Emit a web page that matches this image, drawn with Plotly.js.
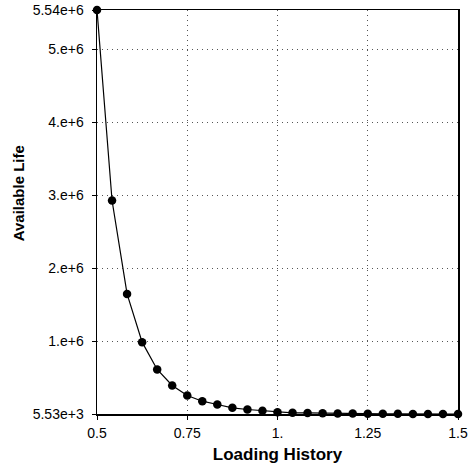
<!DOCTYPE html>
<html>
<head>
<meta charset="utf-8">
<script src="https://cdn.plot.ly/plotly-3.0.1.min.js"></script>
<style>html,body{margin:0;padding:0;background:#fff;}#chart{width:470px;height:466px;}</style>
</head>
<body>
<div id="chart"></div>
<script>
// Data
const loadingHistory = [0.5, 0.5417, 0.5833, 0.625, 0.6667, 0.7083, 0.75, 0.7917, 0.8333, 0.875, 0.9167, 0.9583, 1.0,
  1.0417, 1.0833, 1.125, 1.1667, 1.2083, 1.25, 1.2917, 1.3333, 1.375, 1.4167, 1.4583, 1.5];
const availableLife = [5.54e6, 2.93e6, 1.65e6, 0.99e6, 0.615e6, 0.396e6, 0.259e6, 0.181e6, 0.136e6, 0.09e6, 0.067e6, 0.05e6, 0.03e6,
  0.022e6, 0.02e6, 0.016e6, 0.013e6, 0.011e6, 0.0095e6, 0.0085e6, 0.0075e6, 0.0068e6, 0.0062e6, 0.0058e6, 0.00553e6];
const xTickVals = [0.5, 0.75, 1, 1.25, 1.5];
const xTickText = ["0.5", "0.75", "1.", "1.25", "1.5"];
const yTickVals = [5.53e3, 1e6, 2e6, 3e6, 4e6, 5e6, 5.54e6];
const yTickText = ["5.53e+3", "1.e+6", "2.e+6", "3.e+6", "4.e+6", "5.e+6", "5.54e+6"];

const font = {family: "Liberation Sans, Arial, sans-serif", size: 14, color: "#000"};

const trace = {
  x: loadingHistory,
  y: availableLife,
  type: "scatter",
  mode: "lines+markers",
  line: {color: "#000", width: 1.2},
  marker: {color: "#000", size: 8.5},
  cliponaxis: false,
  hoverinfo: "none"
};

const layout = {
  width: 470, height: 466,
  margin: {l: 97, r: 12, t: 10, b: 52},
  paper_bgcolor: "#fff", plot_bgcolor: "#fff",
  showlegend: false,
  font: font,
  xaxis: {
    range: [0.5, 1.5],
    tickvals: xTickVals, ticktext: xTickText,
    ticks: "outside", ticklen: 4, tickcolor: "#000", tickwidth: 1,
    ticklabelstandoff: 2,
    showline: true, mirror: true, linecolor: "#000", linewidth: 1.5,
    showgrid: true, gridcolor: "#555", gridwidth: 1, griddash: "1px,4px",
    zeroline: false,
    tickfont: font,
    title: {text: "Loading History", font: {family: "Liberation Sans, Arial, sans-serif", size: 17, color: "#000", weight: "bold"}, standoff: 8}
  },
  yaxis: {
    range: [5.53e3, 5.54e6],
    tickvals: yTickVals, ticktext: yTickText,
    ticks: "outside", ticklen: 4, tickcolor: "#000", tickwidth: 1,
    ticklabelstandoff: 5,
    showline: true, mirror: true, linecolor: "#000", linewidth: 1.5,
    showgrid: true, gridcolor: "#555", gridwidth: 1, griddash: "1px,4px",
    zeroline: false,
    tickfont: font
  },
  annotations: [{
    text: "<b>Available Life</b>",
    xref: "paper", yref: "paper",
    x: -0.218, y: 0.547,
    xanchor: "center", yanchor: "middle",
    textangle: -90, showarrow: false,
    font: {family: "Liberation Sans, Arial, sans-serif", size: 15, color: "#000"}
  }]
};

Plotly.newPlot("chart", [trace], layout, {staticPlot: true, displayModeBar: false});
</script>
</body>
</html>
